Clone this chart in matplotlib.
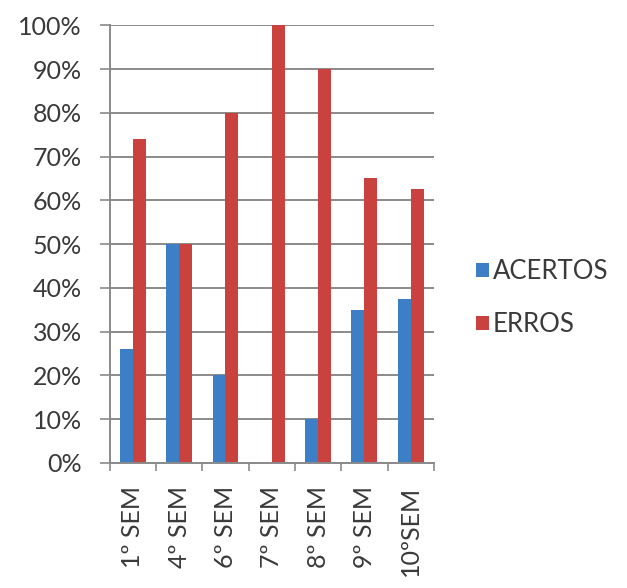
import matplotlib.pyplot as plt
import numpy as np
from matplotlib.ticker import PercentFormatter, MultipleLocator

plt.rcParams['font.family'] = ['Lato', 'DejaVu Sans']

semestres = ['1º SEM', '4º SEM', '6º SEM', '7º SEM', '8º SEM', '9º SEM', '10ºSEM']
acertos = [26, 50, 20, 0, 10, 35, 37.5]
erros = [74, 50, 80, 100, 90, 65, 62.5]

cor_acertos = '#3d7fc6'
cor_erros = '#c9423e'
cinza = '#8a8a8a'
texto = '#3a3a3a'

fig = plt.figure(figsize=(6.27, 5.88), dpi=100)
ax = fig.add_axes([0.175, 0.213, 0.517, 0.744])

x = np.arange(len(semestres))
w = 0.28
ax.bar(x - w / 2, acertos, w, color=cor_acertos, label='ACERTOS')
ax.bar(x + w / 2, erros, w, color=cor_erros, label='ERROS')

ax.set_xlim(-0.5, len(semestres) - 0.5)
ax.set_ylim(0, 100)
ax.yaxis.set_major_locator(MultipleLocator(10))
ax.yaxis.set_major_formatter(PercentFormatter(decimals=0))
ax.grid(axis='y', color=cinza, linewidth=1.4)
ax.set_axisbelow(True)

ax.set_xticks(x)
ax.set_xticklabels(semestres, rotation=90, fontsize=18, color=texto)
ax.set_xticks(np.arange(-0.5, len(semestres)), minor=True)
ax.tick_params(axis='x', which='major', length=0, pad=17)
ax.tick_params(axis='x', which='minor', length=6, color=cinza, width=1.2)
ax.tick_params(axis='y', length=7, color=cinza, width=1.2, labelsize=18,
               labelcolor=texto, pad=13)

for lado in ['top', 'right']:
    ax.spines[lado].set_visible(False)
for lado in ['left', 'bottom']:
    ax.spines[lado].set_color(cinza)
    ax.spines[lado].set_linewidth(1.4)

fig.legend(loc='center left', bbox_to_anchor=(0.722, 0.493), frameon=False,
           fontsize=18.5, handlelength=0.5, handleheight=0.5, handletextpad=0.15,
           labelspacing=1.1, labelcolor=texto)

fig.savefig('out.png', dpi=100)
